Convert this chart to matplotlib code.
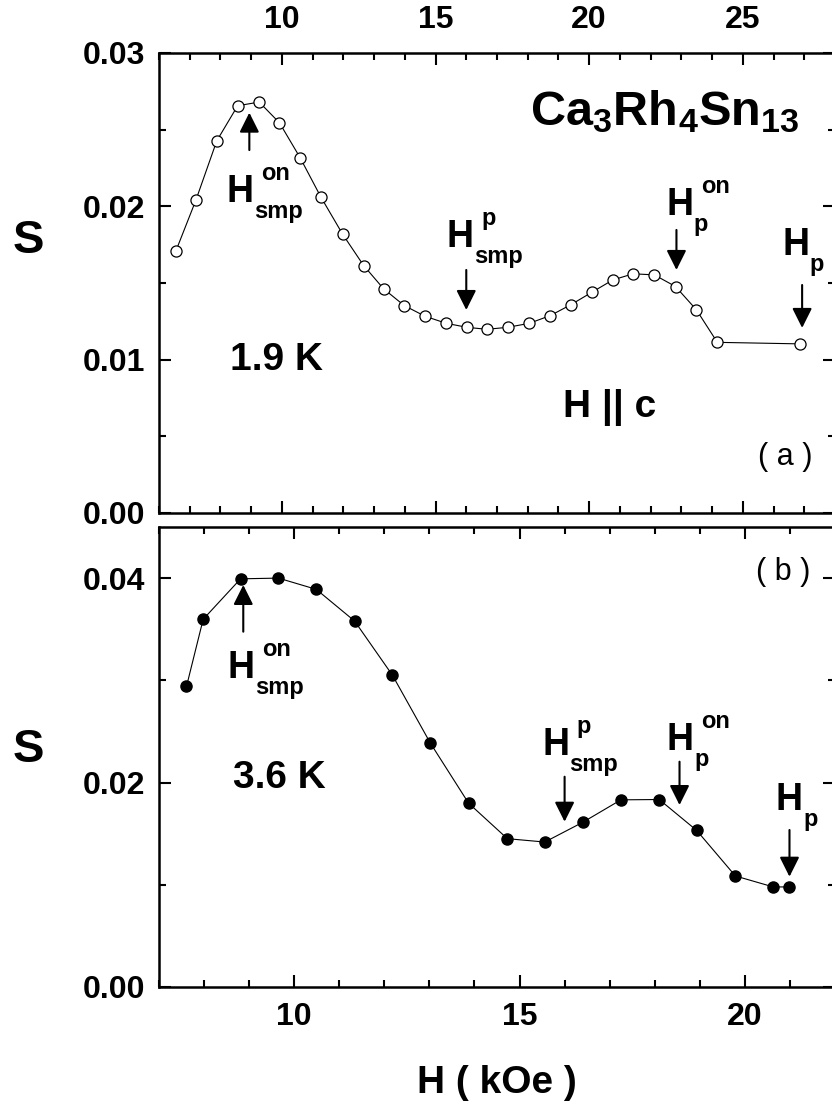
import matplotlib
matplotlib.use('Agg')
import matplotlib.pyplot as plt
from matplotlib.ticker import MultipleLocator, FormatStrFormatter

plt.rcParams['font.family'] = ['Liberation Sans', 'DejaVu Sans']
plt.rcParams['font.weight'] = 'bold'
plt.rcParams['mathtext.fontset'] = 'custom'
plt.rcParams['mathtext.rm'] = 'Liberation Sans'
plt.rcParams['mathtext.bf'] = 'Liberation Sans:bold'
plt.rcParams['mathtext.it'] = 'Liberation Sans:italic'

# ---------------- data ----------------
H_19K = [6.55, 7.20, 7.88, 8.56, 9.26, 9.92, 10.59, 11.27, 11.98, 12.66, 13.31,
         13.98, 14.66, 15.35, 16.02, 16.67, 17.35, 18.05, 18.74, 19.41, 20.09,
         20.77, 21.43, 22.12, 22.81, 23.49, 24.17, 26.86]
S_19K = [0.01709, 0.02040, 0.02427, 0.02656, 0.02680, 0.02545, 0.02318, 0.02060,
         0.01817, 0.01614, 0.01462, 0.01353, 0.01283, 0.01237, 0.01211, 0.01198,
         0.01211, 0.01237, 0.01288, 0.01359, 0.01440, 0.01520, 0.01560, 0.01553,
         0.01477, 0.01325, 0.01113, 0.01103]

H_36K = [7.61, 7.98, 8.81, 9.65, 10.49, 11.34, 12.18, 13.02, 13.87, 14.73, 15.56,
         16.41, 17.25, 18.10, 18.93, 19.79, 20.63, 20.97]
S_36K = [0.0294, 0.03597, 0.03993, 0.0400, 0.0389, 0.0358, 0.0305, 0.02387, 0.01798,
         0.01451, 0.01418, 0.01613, 0.01831, 0.01834, 0.01532, 0.01086, 0.00979, 0.00979]

# characteristic fields (arrow x, arrow tail y, arrow tip y, label x, label y, sup, sub)
marks_a = [
    (8.94, 0.02367, 0.02611, 8.64, 0.02028, 'on', 'smp'),
    (16.00, 0.01585, 0.01324, 15.80, 0.01735, 'p', 'smp'),
    (22.84, 0.01846, 0.01585, 22.95, 0.01944, 'on', 'p'),
    (26.93, 0.01487, 0.01207, 26.72, 0.01683, None, 'p'),
]
marks_b = [
    (8.87, 0.03476, 0.03933, 8.82, 0.03023, 'on', 'smp'),
    (16.00, 0.02057, 0.01617, 15.80, 0.02270, 'p', 'smp'),
    (18.55, 0.02204, 0.01780, 18.57, 0.02319, 'on', 'p'),
    (20.99, 0.01536, 0.01079, 20.99, 0.01732, None, 'p'),
]

W, Hh = 832, 1107
fig = plt.figure(figsize=(W / 100, Hh / 100), dpi=100)

left = 159 / W
width = 676 / W
ax1 = fig.add_axes([left, (Hh - 513) / Hh, width, 460 / Hh])
ax2 = fig.add_axes([left, (Hh - 987) / Hh, width, 460 / Hh])

TICKFS = 23


def style(ax):
    for s in ax.spines.values():
        s.set_linewidth(1.8)
    ax.tick_params(which='both', direction='in', top=True, right=True, width=1.5,
                   labelsize=TICKFS)
    ax.tick_params(which='major', length=8.5)
    ax.tick_params(which='minor', length=5)


def hlabel(ax, x, y, sup, sub):
    ax.text(x, y, 'H', fontsize=27, fontweight='bold', ha='center', va='baseline')
    if sup:
        ax.annotate(sup, xy=(x, y), xytext=(21, 22), textcoords='offset pixels',
                    fontsize=17, fontweight='bold', ha='left', va='baseline')
    if sub:
        ax.annotate(sub, xy=(x, y), xytext=(14, -16), textcoords='offset pixels',
                    fontsize=17, fontweight='bold', ha='left', va='baseline')


def arrow(ax, x, y0, y1):
    ax.annotate('', xy=(x, y1), xytext=(x, y0),
                arrowprops=dict(arrowstyle='-|>,head_length=0.6,head_width=0.3',
                                mutation_scale=20, lw=1.5, color='black',
                                shrinkA=0, shrinkB=0))


# ---------------- panel (a) ----------------
ax1.plot(H_19K, S_19K, '-', color='black', lw=0.8, marker='o', ms=8,
         mfc='white', mec='black', mew=0.9)
ax1.set_xlim(6, 28)
ax1.set_ylim(0, 0.03)
ax1.xaxis.set_major_locator(MultipleLocator(5))
ax1.xaxis.set_minor_locator(MultipleLocator(1))
ax1.yaxis.set_major_locator(MultipleLocator(0.01))
ax1.yaxis.set_minor_locator(MultipleLocator(0.005))
ax1.yaxis.set_major_formatter(FormatStrFormatter('%.2f'))
style(ax1)
ax1.tick_params(axis='x', labeltop=True, labelbottom=False, pad=13)
ax1.tick_params(axis='y', pad=10)

for (x, y0, y1, lx, ly, sup, sub) in marks_a:
    arrow(ax1, x, y0, y1)
    hlabel(ax1, lx, ly, sup, sub)

ax1.text(18.08, 0.0253, r'$\mathbf{Ca_3Rh_4Sn_{13}}$', fontsize=35,
         ha='left', va='baseline')
ax1.text(8.31, 0.00933, '1.9 K', fontsize=28, fontweight='bold',
         ha='left', va='baseline')
ax1.text(19.16, 0.00626, 'H || c', fontsize=28, fontweight='bold',
         ha='left', va='baseline')
ax1.text(0.966, 0.104, '( a )', transform=ax1.transAxes, fontsize=22,
         fontweight='normal', ha='right', va='baseline')

# ---------------- panel (b) ----------------
ax2.plot(H_36K, S_36K, '-', color='black', lw=0.8, marker='o', ms=8,
         mfc='black', mec='black')
ax2.set_xlim(7, 22)
ax2.set_ylim(0, 0.045)
ax2.xaxis.set_major_locator(MultipleLocator(5))
ax2.xaxis.set_minor_locator(MultipleLocator(1))
ax2.yaxis.set_major_locator(MultipleLocator(0.02))
ax2.yaxis.set_minor_locator(MultipleLocator(0.01))
ax2.yaxis.set_major_formatter(FormatStrFormatter('%.2f'))
style(ax2)
ax2.tick_params(axis='x', pad=11)
ax2.tick_params(axis='y', pad=10)

for (x, y0, y1, lx, ly, sup, sub) in marks_b:
    arrow(ax2, x, y0, y1)
    hlabel(ax2, lx, ly, sup, sub)

ax2.text(8.64, 0.01947, '3.6 K', fontsize=28, fontweight='bold',
         ha='left', va='baseline')
ax2.text(0.963, 0.885, '( b )', transform=ax2.transAxes, fontsize=22,
         fontweight='normal', ha='right', va='baseline')

# axis labels
fig.text(28 / W, 1 - 241 / Hh, 'S', fontsize=34, fontweight='bold',
         ha='center', va='center')
fig.text(28 / W, 1 - 750 / Hh, 'S', fontsize=34, fontweight='bold',
         ha='center', va='center')
fig.text(497 / W, 1 - 1093 / Hh, 'H ( kOe )', fontsize=28, fontweight='bold',
         ha='center', va='baseline')

fig.savefig('out.png', dpi=100)
